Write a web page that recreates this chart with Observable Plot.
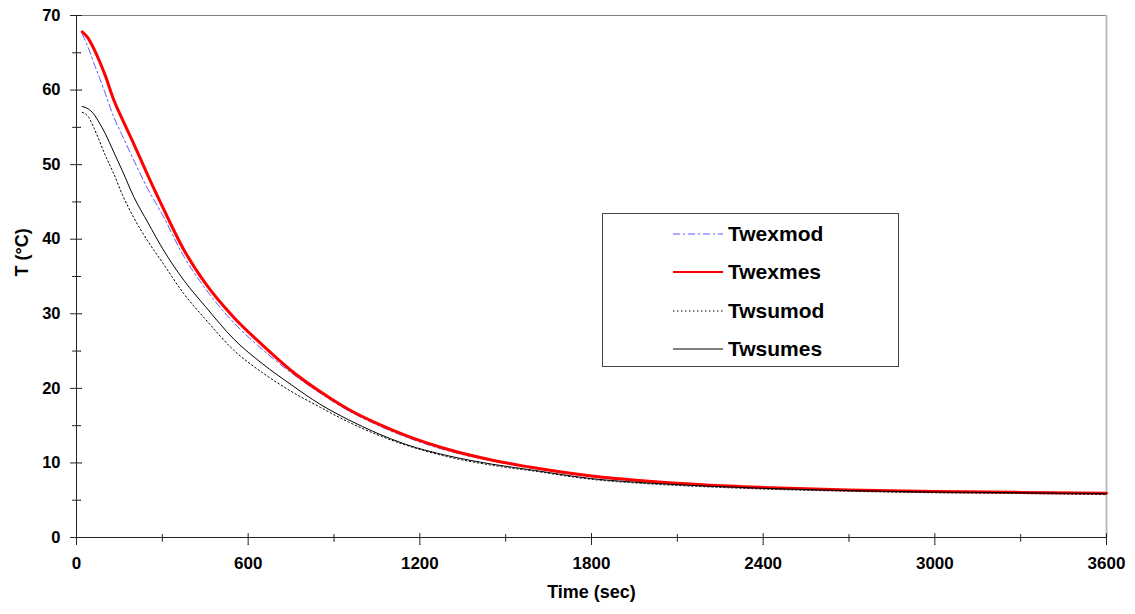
<!DOCTYPE html>
<html>
<head>
<meta charset="utf-8">
<script src="https://cdn.jsdelivr.net/npm/d3@7"></script>
<script src="https://cdn.jsdelivr.net/npm/@observablehq/plot@0.6"></script>
<style>
  html, body { margin: 0; padding: 0; background: #fff; }
  #wrap { position: relative; width: 1135px; height: 614px; }
  #legend {
    position: absolute; left: 602px; top: 213px; width: 297px; height: 154px;
    border: 1.5px solid #444; background: #fff; box-sizing: border-box;
    font-family: "Liberation Sans", Arial, sans-serif; font-weight: bold; font-size: 21px;
  }
  .row { position: absolute; left: 0; height: 24px; }
  .row svg { position: absolute; left: 70px; top: 7px; }
  .row span { position: absolute; left: 125px; top: 0px; line-height: 24px; white-space: nowrap; }
</style>
</head>
<body>
<div id="wrap"></div>
<script>
// ---- data ----
const time = [20, 40, 60, 80, 100, 130, 160, 200, 250, 300, 375, 450, 550, 650, 750, 850, 950, 1050, 1150, 1300, 1450, 1600, 1800, 2000, 2200, 2400, 2700, 3000, 3300, 3600];
const Twexmod = [67.5, 65.8, 63.7, 61.7, 59.6, 56.4, 53.9, 50.6, 46.7, 43.3, 37.7, 33.4, 28.8, 25.2, 22.1, 19.4, 17.0, 15.1, 13.5, 11.6, 10.3, 9.25, 8.15, 7.45, 6.95, 6.65, 6.3, 6.1, 6.0, 5.9];
const Twexmes = [67.8, 67.0, 65.6, 63.9, 62.0, 58.7, 56.1, 52.8, 48.5, 44.4, 38.6, 34.1, 29.5, 25.8, 22.4, 19.6, 17.2, 15.3, 13.7, 11.8, 10.4, 9.35, 8.25, 7.55, 7.05, 6.72, 6.37, 6.17, 6.05, 5.95];
const Twsumod = [57.0, 56.5, 55.0, 53.2, 51.3, 48.8, 46.0, 42.9, 39.7, 36.9, 32.7, 29.3, 25.1, 22.1, 19.6, 17.5, 15.5, 13.8, 12.4, 10.8, 9.7, 8.9, 7.8, 7.2, 6.8, 6.5, 6.2, 6.0, 5.9, 5.75];
const Twsumes = [57.8, 57.5, 56.8, 55.6, 54.2, 51.7, 49.2, 45.7, 42.2, 38.8, 34.5, 31.0, 26.6, 23.3, 20.5, 17.9, 15.8, 14.0, 12.5, 10.95, 9.85, 9.0, 7.9, 7.3, 6.9, 6.6, 6.3, 6.1, 6.0, 5.9];
const seriesNames = ["Twexmod", "Twexmes", "Twsumod", "Twsumes"];
const seriesValues = [Twexmod, Twexmes, Twsumod, Twsumes];
const xMajorTicks = [0, 600, 1200, 1800, 2400, 3000, 3600];
const xMinorTicks = [300, 900, 1500, 2100, 2700, 3300];
const yMajorTicks = [0, 10, 20, 30, 40, 50, 60, 70];
const yMinorTicks = [5, 15, 25, 35, 45, 55, 65];
const xDomain = [0, 3600];
const yDomain = [0, 70];
const xTitle = "Time (sec)";
const yTitle = "T (°C)";

// ---- styles ----
const styles = {
  Twexmod: {stroke: "#5a5aff", strokeWidth: 1, dash: "7,3,2,3"},
  Twexmes: {stroke: "#ff0000", strokeWidth: 3, dash: null},
  Twsumod: {stroke: "#000000", strokeWidth: 1, dash: "1.5,2.5"},
  Twsumes: {stroke: "#000000", strokeWidth: 1, dash: null}
};

const rows = seriesNames.flatMap((name, si) =>
  time.map((t, i) => ({series: name, time: t, T: seriesValues[si][i]})));

const font = "'Liberation Sans', Arial, sans-serif";
const tickColor = "#222";

const lineMarks = seriesNames.map(name => Plot.line(rows.filter(r => r.series === name), {
  x: "time", y: "T", stroke: styles[name].stroke, strokeWidth: styles[name].strokeWidth,
  strokeDasharray: styles[name].dash, curve: "monotone-x"
}));

const tickOpts = {r: 0, anchor: "start", stroke: tickColor, strokeWidth: 1};

const chart = Plot.plot({
  width: 1135, height: 614,
  marginLeft: 76, marginRight: 29, marginTop: 15, marginBottom: 77,
  style: {fontFamily: font, fontWeight: "bold", background: "white", color: "#000"},
  x: {domain: xDomain},
  y: {domain: yDomain},
  marks: [
    Plot.ruleY([yDomain[1]], {stroke: "#808080", strokeWidth: 1}),
    Plot.ruleX([xDomain[1]], {stroke: "#bdbdbd", strokeWidth: 2}),
    ...lineMarks,
    Plot.ruleX([xDomain[0]], {stroke: tickColor, strokeWidth: 1}),
    Plot.ruleY([yDomain[0]], {stroke: tickColor, strokeWidth: 1}),
    // y ticks crossing the axis
    Plot.vector(yMajorTicks, {...tickOpts, x: () => xDomain[0], y: d => d, length: 11, rotate: 90, dx: -6}),
    Plot.vector(yMinorTicks, {...tickOpts, x: () => xDomain[0], y: d => d, length: 8, rotate: 90, dx: -4}),
    Plot.axisY(yMajorTicks, {tickSize: 0, tickPadding: 16, fontSize: 16.5, fontWeight: "bold", fill: "#000", label: null}),
    // x ticks crossing the axis
    Plot.vector(xMajorTicks, {...tickOpts, x: d => d, y: () => yDomain[0], length: 11, rotate: 180, dy: -4}),
    Plot.vector(xMinorTicks, {...tickOpts, x: d => d, y: () => yDomain[0], length: 6.5, rotate: 180, dy: -3}),
    Plot.axisX(xMajorTicks, {tickSize: 0, tickPadding: 19, tickFormat: d => String(d), fontSize: 17, fontWeight: "bold", fill: "#000", label: null}),
    // axis titles
    Plot.text([xTitle], {text: d => d, frameAnchor: "bottom", dy: 60, fontSize: 18, fontWeight: "bold", fill: "#000"}),
    Plot.text([yTitle], {text: d => d, frameAnchor: "left", dx: -54, rotate: -90, fontSize: 18, fontWeight: "bold", fill: "#000"})
  ]
});

const wrap = document.getElementById("wrap");
wrap.appendChild(chart);

// legend overlay
const legend = document.createElement("div");
legend.id = "legend";
seriesNames.forEach((name, i) => {
  const row = document.createElement("div");
  row.className = "row";
  row.style.top = (8 + i * 38.3) + "px";
  const s = styles[name];
  row.innerHTML = `<svg width="50" height="10"><line x1="0" x2="50" y1="5" y2="5" stroke="${s.stroke}" stroke-width="${s.strokeWidth === 3 ? 2 : 1}" ${s.dash ? `stroke-dasharray="${s.dash}"` : ""}/></svg><span>${name}</span>`;
  legend.appendChild(row);
});
wrap.appendChild(legend);
</script>
</body>
</html>
